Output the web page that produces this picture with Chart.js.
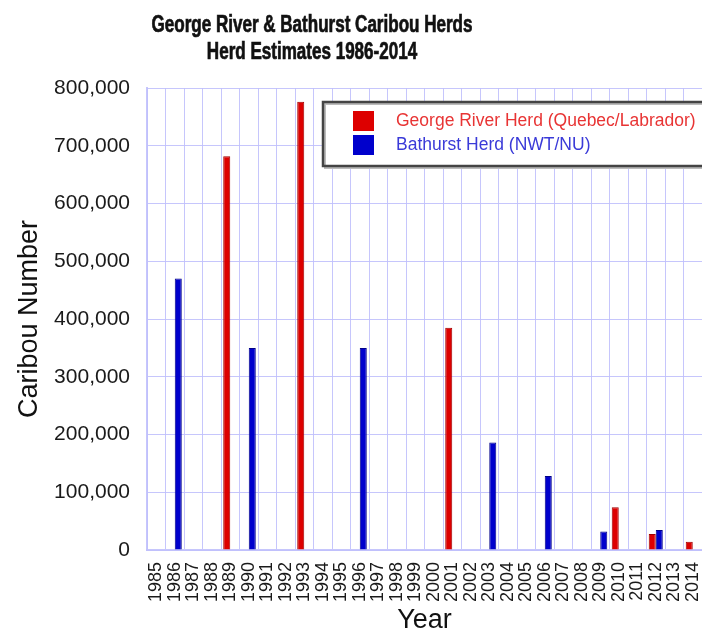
<!DOCTYPE html>
<html>
<head>
<meta charset="utf-8">
<script src="https://cdn.jsdelivr.net/npm/chart.js@4/dist/chart.umd.min.js"></script>
<style>
  html, body { margin: 0; padding: 0; background: #fff; overflow: hidden; }
  #wrap { width: 702px; height: 637px; position: relative; }
</style>
</head>
<body>
<div id="wrap"><canvas id="herd-chart"></canvas></div>
<script>
var titleLines = ['George River & Bathurst Caribou Herds', 'Herd Estimates 1986-2014'];

var years = ['1985', '1986', '1987', '1988', '1989', '1990', '1991', '1992', '1993', '1994',
             '1995', '1996', '1997', '1998', '1999', '2000', '2001', '2002', '2003', '2004',
             '2005', '2006', '2007', '2008', '2009', '2010', '2011', '2012', '2013', '2014'];

var georgeRiver = [null, null, null, null, 682000, null, null, null, 776000, null,
                   null, null, null, null, null, null, 385000, null, null, null,
                   null, null, null, null, null, 74000, null, 27600, null, 14200];

var bathurst = [null, 470000, null, null, null, 350000, null, null, null, null,
                null, 350000, null, null, null, null, null, null, 186000, null,
                null, 128000, null, null, 32000, null, null, 34700, null, null];

var seriesNames = ['George River Herd (Quebec/Labrador)', 'Bathurst Herd (NWT/NU)'];

var yTicks = [0, 100000, 200000, 300000, 400000, 500000, 600000, 700000, 800000];

var gridBlue = 'rgba(192, 192, 252, 0.9)';

// title drawn by hand so it can sit left of the canvas centre like the original
var titlePlugin = {
    id: 'herdTitle',
    afterDraw: function (chart) {
        var ctx = chart.ctx;
        ctx.save();
        ctx.fillStyle = '#111';
        ctx.strokeStyle = '#111';
        ctx.lineWidth = 0.7;
        ctx.textAlign = 'center';
        ctx.textBaseline = 'middle';
        ctx.font = 'bold 23px "Liberation Sans", Arial, sans-serif';
        // squeeze to the condensed look of the original
        var sx = 321 / ctx.measureText(titleLines[0]).width;
        titleLines.forEach(function (line, i) {
            ctx.save();
            ctx.translate(312, 26 + i * 27);
            ctx.scale(sx, 1);
            ctx.fillText(line, 0, 0);
            ctx.strokeText(line, 0, 0);
            ctx.restore();
        });
        ctx.restore();
    }
};

// boxed legend inside the plot, top right
var boxLegend = {
    id: 'boxLegend',
    afterDraw: function (chart) {
        var ctx = chart.ctx;
        var x = 323, y = 102;
        ctx.save();
        ctx.fillStyle = '#fff';
        ctx.fillRect(x, y, 420, 64);
        ctx.strokeStyle = '#bbb';
        ctx.lineWidth = 2;
        ctx.strokeRect(x + 2, y + 2, 420, 64);
        ctx.strokeStyle = '#444';
        ctx.lineWidth = 2.5;
        ctx.strokeRect(x, y, 420, 64);
        ctx.font = '17.5px "Liberation Sans", Arial, sans-serif';
        ctx.textBaseline = 'middle';
        var textCol = ['#e83434', '#3a3ad8'];
        chart.data.datasets.forEach(function (ds, i) {
            var sy = y + 9 + i * 24;
            ctx.fillStyle = ds.backgroundColor;
            ctx.fillRect(x + 30, sy, 21, 20);
            ctx.fillStyle = textCol[i];
            ctx.fillText(ds.label, x + 73, sy + 10);
        });
        ctx.restore();
    }
};

var ctx = document.getElementById('herd-chart');

var config = {
    type: 'bar',
    data: {
        labels: years,
        datasets: [
            {
                label: seriesNames[0],
                data: georgeRiver,
                backgroundColor: '#dd0000',
                borderColor: '#a00000',
                borderWidth: 1,
                categoryPercentage: 0.76,
                barPercentage: 1.0
            },
            {
                label: seriesNames[1],
                data: bathurst,
                backgroundColor: '#0000cc',
                borderColor: '#000088',
                borderWidth: 1,
                categoryPercentage: 0.76,
                barPercentage: 1.0
            }
        ]
    },
    options: {
        responsive: true,
        maintainAspectRatio: false,
        animation: false,
        layout: {
            padding: { top: 88, left: 12, right: 0, bottom: 0 }
        },
        plugins: {
            legend: { display: false },
            title: { display: false },
            tooltip: { enabled: false }
        },
        scales: {
            x: {
                afterFit: function (s) {
                    s.height = 87;
                    s.paddingLeft = 0;
                    s.paddingRight = 0;
                },
                grid: {
                    color: gridBlue,
                    lineWidth: 1,
                    drawTicks: false,
                    offset: true
                },
                border: { color: gridBlue, width: 2 },
                ticks: {
                    color: '#1a1a1a',
                    font: { family: '"Liberation Sans", Arial, sans-serif', size: 18 },
                    minRotation: 90,
                    maxRotation: 90,
                    autoSkip: false,
                    padding: 12
                },
                title: {
                    display: true,
                    text: 'Year',
                    color: '#111',
                    font: { family: '"Liberation Sans", Arial, sans-serif', size: 27 },
                    padding: { top: 0, bottom: 0 }
                }
            },
            y: {
                min: 0,
                max: 800000,
                afterBuildTicks: function (axis) {
                    axis.ticks = yTicks.map(function (v) { return { value: v }; });
                },
                afterFit: function (s) {
                    s.width = 135;
                },
                grid: {
                    color: gridBlue,
                    lineWidth: 1,
                    drawTicks: false
                },
                border: { color: gridBlue, width: 2 },
                ticks: {
                    color: '#1a1a1a',
                    font: { family: '"Liberation Sans", Arial, sans-serif', size: 21 },
                    padding: 17,
                    callback: function (v) { return Number(v).toLocaleString('en-US'); }
                },
                title: {
                    display: true,
                    text: 'Caribou Number',
                    color: '#111',
                    font: { family: '"Liberation Sans", Arial, sans-serif', size: 27 },
                    padding: { top: 1, bottom: 0 }
                }
            }
        }
    },
    plugins: [titlePlugin, boxLegend]
};

var herdChart = new Chart(ctx, config);
</script>
</body>
</html>
